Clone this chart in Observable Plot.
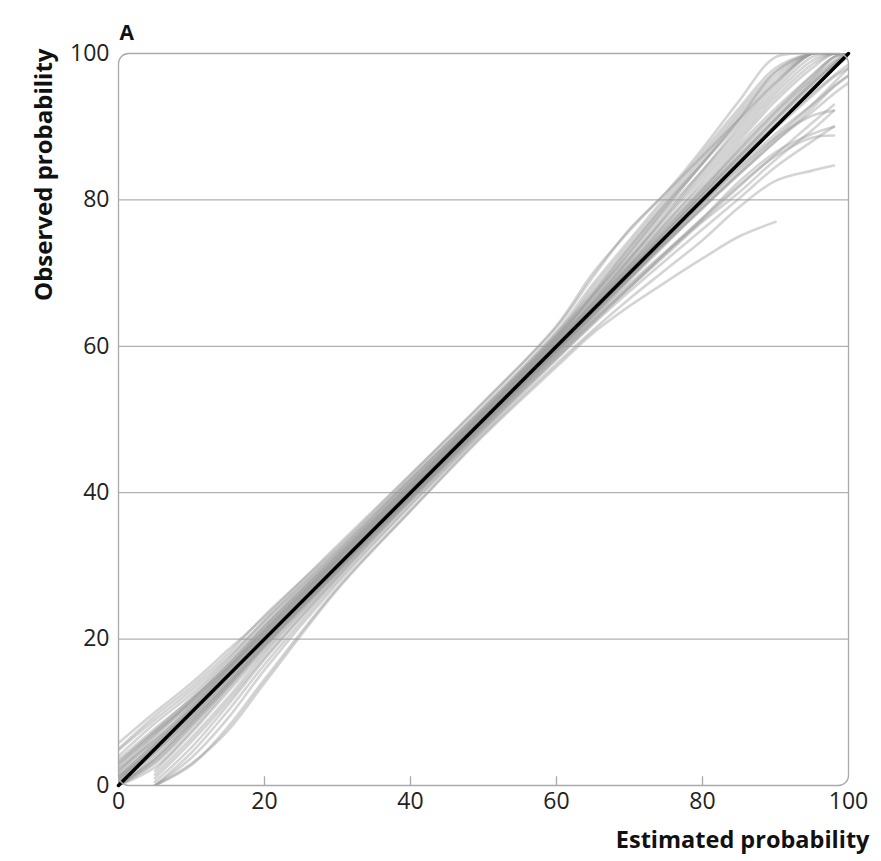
<!DOCTYPE html>
<html><head><meta charset="utf-8">
<script src="https://cdn.jsdelivr.net/npm/d3@7"></script>
<script src="https://cdn.jsdelivr.net/npm/@observablehq/plot@0.6"></script>
<style>body{margin:0;background:#fff;}</style>
</head><body><div id="chart"></div>
<script>
const estimatedGrid = [0, 5, 10, 15, 20, 30, 40, 50, 60, 65, 70, 75, 80, 85, 90, 95, 98, 100];
const observedCurves = [
  [0.5, 5.5, 10.5, 15.8, 21, 31, 40.8, 50.6, 60.8, 66, 71.5, 77, 82, 87.5, 92.5, 97, 99.5, 100],
  [2, 6.8, 11.6, 16.5, 21.8, 31.6, 41.5, 51.2, 61.5, 67, 72.5, 78.5, 84, 89.5, 95, 99.5, 100, 100],
  [4, 8.5, 12.5, 17.2, 22.5, 32.2, 42, 51.8, 62, 68.5, 74.5, 80.5, 86.5, 92.5, 98, 100, 100, 100],
  [5.8, 10, 14, 18.5, 23, 32.8, 42.5, 52.3, 62.8, 70, 75.8, 81, 86, 91, 96, 100, 100, 100],
  [1.2, 5, 9.8, 15, 20.5, 30.6, 40.4, 50.3, 60.3, 65.5, 71, 76.5, 81.5, 87, 92, 96.5, 99, 100],
  [0, 4.2, 9, 14.2, 19.6, 29.6, 39.6, 49.6, 59.6, 64.8, 70, 75, 80, 85, 90, 95, 98, 100],
  [null, 2, 7.2, 12.8, 18.4, 29, 39.2, 49.2, 59, 64, 69, 74, 79, 83.5, 88, 92.5, 95.5, 97],
  [null, 0, 4.5, 10.2, 16.5, 28, 38.4, 48.6, 58.4, 63.2, 68, 72.5, 77, 81, 85.5, 89.5, 92.2, null],
  [null, 0, 2.8, 8, 14.5, 27, 37.6, 48, 57.6, 62.2, 66.5, 70.5, 74.5, 79, 82.6, 84, 84.7, null],
  [null, 0, 3, 7.5, 14, 26.8, 37.5, 47.8, 57.2, 61.8, 65.5, 68.8, 72, 75, 77, null, null, null],
  [3, 7.5, 12, 16.8, 22, 31.8, 41.8, 51.5, 61.8, 67.5, 73.5, 79.5, 85.5, 91.5, 97, 100, 100, 100],
  [1.5, 6, 10.8, 15.5, 20.8, 30.8, 40.6, 50.8, 61, 66.5, 72, 77.5, 83, 88.5, 94, 98.5, 100, 100],
  [0.2, 3.5, 8.5, 13.8, 19.2, 29.5, 39.5, 49.5, 59.4, 64.5, 69.5, 74.2, 78.8, 83.5, 88, 92, 94.5, 96],
  [0.8, 4.8, 9.5, 14.8, 20, 30, 40, 50, 60, 65.2, 70.5, 75.8, 81, 86, 91, 95.8, 98.5, 100],
  [null, 1, 6, 11.5, 17.5, 28.5, 39, 49, 58.8, 63.8, 68.5, 73, 77.5, 82, 86, 88.5, 88.8, null],
  [2.5, 7, 11.2, 16, 21.2, 31.2, 41.2, 51, 61.2, 66.8, 72.8, 79, 85, 91, 96.5, 100, 100, 100],
  [0, 3, 8, 13.5, 19, 29.2, 39.3, 49.3, 59.2, 64.2, 69.2, 74.5, 79.5, 84.2, 88.5, 91.5, 92.2, null],
  [1, 5.8, 10.2, 15.2, 20.3, 30.3, 40.2, 50.2, 60.5, 66, 71.8, 77.8, 83.5, 89, 94.5, 99, 100, 100],
  [3.5, 7.8, 11.8, 16.2, 21.5, 31.4, 41.2, 51, 61, 67.2, 73.5, 79.5, 85, 90.5, 96, 100, 100, 100],
  [null, 1.5, 6.5, 12, 18, 28.8, 39, 49, 58.8, 63.5, 68, 72.8, 77.5, 82.5, 86.5, 89, 90, null],
  [0.4, 4.5, 9.2, 14.5, 19.8, 29.8, 39.8, 49.8, 59.8, 65, 70.3, 75.5, 80.8, 86, 91, 96, 98.8, 100],
  [2.2, 6.2, 10.5, 15.5, 20.6, 30.5, 40.5, 50.4, 60.4, 65.8, 71.2, 76.8, 82.5, 88, 93.5, 98, 100, 100],
  [0, 3.8, 8.8, 14, 19.5, 29.8, 39.8, 49.8, 59.5, 64.6, 69.8, 74.6, 79.5, 84.5, 89, 93, 95.5, 97],
  [4.8, 9, 13, 17.5, 22.5, 32, 41.8, 51.5, 61.5, 68, 74, 80, 86, 92, 97.5, 100, 100, 100],
  [null, 0.5, 5.2, 11, 17.2, 28.4, 38.8, 48.8, 58.5, 63.4, 68.2, 72.8, 77.2, 81.8, 86.2, 90.5, 93, null],
  [1.8, 6.4, 11, 16, 21, 30.9, 40.9, 50.8, 60.6, 65.8, 71, 76.2, 81.5, 86.8, 92, 97, 99.5, 100],
  [0.6, 5.2, 10, 15.2, 20.2, 30.2, 40.2, 50.2, 60.2, 65.3, 70.5, 75.7, 80.6, 85.5, 90.2, 94.5, 97, 98.5],
  [0, 2.5, 7.5, 13.2, 18.8, 29.3, 39.4, 49.4, 59.3, 64.4, 69.3, 74.2, 79, 83.8, 88.5, 93, 96, 98],
  [3.2, 7.4, 11.4, 16, 21.2, 31, 40.9, 50.7, 60.9, 66.3, 72, 78, 84, 90, 95.5, 100, 100, 100],
  [1.3, 5.6, 10.3, 15.3, 20.4, 30.4, 40.3, 50.3, 60.2, 65.4, 70.8, 76, 81.2, 86.5, 91.5, 96.5, 99.5, 100],
  [null, 0, 3.8, 9.2, 15.8, 27.6, 38.2, 48.4, 58.2, 63, 67.5, 71.8, 76, 80.2, 84.5, 88, 90, null],
  [0.3, 4.6, 9.4, 14.6, 19.7, 29.7, 39.7, 49.7, 59.7, 64.8, 69.9, 75, 80.2, 85.3, 90.5, 95.5, 98.5, 100],
  [2.8, 7.2, 11.6, 16.4, 21.6, 31.4, 41.3, 51.2, 61.4, 67, 73, 79, 85, 91, 97.5, 100, 100, 100],
  [0, 3.2, 8.2, 13.5, 19, 29.4, 39.5, 49.5, 59.3, 64.3, 69.4, 74.5, 79.8, 85, 90, 95, 98, 99.5],
  [1, 5.3, 9.9, 15, 20.1, 30.1, 40.1, 50.1, 60.1, 65.2, 70.4, 75.5, 80.7, 85.8, 91, 96, 98.5, 100],
  [0, 3.6, 8.6, 13.9, 19.3, 29.5, 39.6, 49.6, 59.6, 64.7, 69.6, 74.8, 80, 85, 89.8, 94.2, 96.8, 98],
  [5, 9.5, 13.5, 18, 23.2, 32.5, 42.4, 52.4, 62.6, 69.5, 76, 81, 87, 93.5, 99.5, 100, 100, 100]
];
const diagonalValues = [0, 100];
const xTicks = [0, 20, 40, 60, 80, 100];
const yTicks = [0, 20, 40, 60, 80, 100];
const gridValues = [20, 40, 60, 80];
const panelLabel = "A";
const xLabel = "Estimated probability";
const yLabel = "Observed probability";

const lineRows = observedCurves.flatMap((curve, i) =>
  curve.map((v, j) => ({curve: i, est: estimatedGrid[j], obs: v}))
);
const diagRows = diagonalValues.map(v => ({est: v, obs: v}));

const chart = Plot.plot({
  width: 881,
  height: 861,
  marginLeft: 118,
  marginRight: 33,
  marginTop: 53,
  marginBottom: 76,
  x: {domain: [0, 100]},
  y: {domain: [0, 100]},
  style: {fontFamily: "'Open Sans', sans-serif", fontSize: "23px", color: "#222", background: "#fff"},
  marks: [
    Plot.ruleY(gridValues, {stroke: "#b0b0b0", strokeWidth: 1.3}),
    Plot.line(lineRows, {x: "est", y: "obs", z: "curve", stroke: "#999", strokeOpacity: 0.42, strokeWidth: 2.6, curve: "catmull-rom", clip: true}),
    Plot.line(diagRows, {x: "est", y: "obs", stroke: "#000", strokeWidth: 3.5}),
    Plot.frame({stroke: "#aaa", strokeWidth: 1.3, rx: 10}),
    Plot.ruleX(gridValues, {y1: 0, y2: 1.2, stroke: "#aaa", strokeWidth: 1.3}),
    Plot.axisX(xTicks, {tickSize: 0, tickPadding: 7, fontSize: 23, label: null}),
    Plot.axisY(yTicks, {tickSize: 0, tickPadding: 9, fontSize: 23, label: null}),
    Plot.text([yLabel], {frameAnchor: "top-left", rotate: -90, textAnchor: "end", dx: -84, dy: -5, fontWeight: "bold", fontSize: 24, fill: "#111"}),
    Plot.text([xLabel], {frameAnchor: "bottom-right", textAnchor: "end", dx: 21, dy: 62, fontWeight: "bold", fontSize: 23.5, fill: "#111"}),
    Plot.text([panelLabel], {frameAnchor: "top-left", textAnchor: "start", dx: 1, dy: -28, fontWeight: "bold", fontSize: 21, fill: "#111"})
  ]
});
document.getElementById("chart").append(chart);
</script>
</body></html>
